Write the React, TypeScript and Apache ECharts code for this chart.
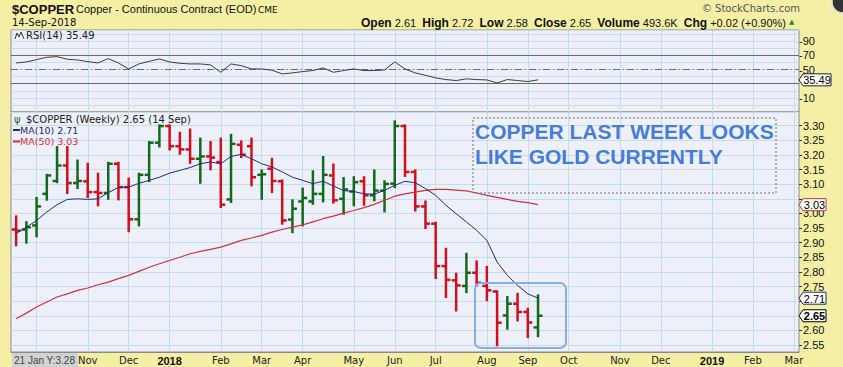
import React, { useEffect, useRef } from "react";
import * as echarts from "echarts";

// Weekly categories (Monday of each week), Sep 2017 .. Mar 2019
const weeks = [
  "2017-09-18","2017-09-25","2017-10-02","2017-10-09","2017-10-16","2017-10-23","2017-10-30",
  "2017-11-06","2017-11-13","2017-11-20","2017-11-27","2017-12-04","2017-12-11","2017-12-18","2017-12-25",
  "2018-01-01","2018-01-08","2018-01-15","2018-01-22","2018-01-29","2018-02-05","2018-02-12","2018-02-19","2018-02-26",
  "2018-03-05","2018-03-12","2018-03-19","2018-03-26","2018-04-02","2018-04-09","2018-04-16","2018-04-23","2018-04-30",
  "2018-05-07","2018-05-14","2018-05-21","2018-05-28","2018-06-04","2018-06-11","2018-06-18","2018-06-25",
  "2018-07-02","2018-07-09","2018-07-16","2018-07-23","2018-07-30","2018-08-06","2018-08-13","2018-08-20","2018-08-27",
  "2018-09-03","2018-09-10",
  "2018-09-17","2018-09-24","2018-10-01","2018-10-08","2018-10-15","2018-10-22","2018-10-29",
  "2018-11-05","2018-11-12","2018-11-19","2018-11-26","2018-12-03","2018-12-10","2018-12-17","2018-12-24","2018-12-31",
  "2019-01-07","2019-01-14","2019-01-21","2019-01-28","2019-02-04","2019-02-11","2019-02-18","2019-02-25","2019-03-04"
];

const opens = [2.945,2.945,2.959,3.067,3.111,3.164,3.104,3.110,3.073,3.070,3.170,3.090,2.980,3.132,3.242,3.299,3.230,3.219,3.187,3.195,3.176,3.048,3.235,3.230,3.132,3.153,3.110,2.979,3.041,3.041,3.067,3.130,3.050,3.075,3.110,3.062,3.078,3.102,3.299,3.142,3.024,2.965,2.820,2.771,2.752,2.797,2.752,2.733,2.651,2.691,2.663,2.61];
const highs = [2.990,2.970,3.053,3.132,3.227,3.227,3.181,3.170,3.136,3.173,3.173,3.119,3.136,3.244,3.301,3.301,3.276,3.287,3.256,3.244,3.256,3.269,3.246,3.256,3.147,3.187,3.113,3.045,3.085,3.144,3.193,3.167,3.121,3.124,3.124,3.147,3.110,3.315,3.301,3.147,3.041,2.968,2.879,2.794,2.862,2.836,2.817,2.733,2.714,2.725,2.674,2.72];
const lows = [2.891,2.900,2.922,3.047,3.107,3.070,3.087,3.056,3.028,3.050,3.048,2.939,2.959,3.111,3.229,3.219,3.204,3.173,3.105,3.151,3.022,3.039,3.193,3.096,3.050,3.073,2.965,2.936,2.959,3.033,3.041,3.037,2.999,3.028,3.030,3.045,3.007,3.090,3.128,3.010,2.950,2.779,2.714,2.668,2.731,2.754,2.703,2.549,2.606,2.634,2.577,2.58];
const closes = [2.941,2.953,3.024,3.130,3.164,3.104,3.111,3.073,3.070,3.170,3.090,2.980,3.132,3.242,3.299,3.230,3.219,3.187,3.195,3.191,3.030,3.238,3.201,3.124,3.134,3.111,2.976,3.016,3.053,3.067,3.132,3.045,3.082,3.107,3.062,3.078,3.101,3.299,3.142,3.024,2.965,2.820,2.773,2.754,2.797,2.763,2.737,2.626,2.691,2.663,2.627,2.65];
const ma10 = [2.931,2.953,2.976,3.005,3.030,3.048,3.050,3.048,3.050,3.071,3.089,3.090,3.103,3.113,3.124,3.138,3.147,3.157,3.170,3.176,3.170,3.195,3.202,3.187,3.170,3.159,3.142,3.124,3.113,3.102,3.110,3.094,3.078,3.075,3.067,3.066,3.079,3.096,3.110,3.105,3.085,3.062,3.028,2.999,2.971,2.942,2.908,2.834,2.788,2.754,2.725,2.71];
const ma50 = [2.640,2.659,2.680,2.697,2.714,2.725,2.737,2.745,2.756,2.765,2.777,2.788,2.802,2.816,2.828,2.839,2.850,2.862,2.870,2.877,2.885,2.896,2.908,2.916,2.925,2.936,2.945,2.953,2.961,2.971,2.982,2.991,3.001,3.010,3.020,3.031,3.045,3.059,3.067,3.073,3.079,3.082,3.082,3.080,3.077,3.070,3.062,3.055,3.048,3.041,3.037,3.03];
const rsi = [59.4,60.8,64.1,67.4,68.3,64.6,63.6,61.3,59.4,65.5,59.4,50.9,58.0,61.7,65.0,60.8,58.9,58.0,58.0,56.6,46.2,58.0,55.6,50.9,50.9,49.1,43.9,45.3,47.2,48.6,52.3,46.2,48.6,50.9,48.6,48.6,49.5,60.8,50.9,45.3,42.0,38.3,35.9,34.5,36.9,35.9,35.4,31.2,35.9,34.5,33.1,35.49];

const rsiTickLabels = [10, 30, 50, 70, 90];
const monthNames = ["Jan","Feb","Mar","Apr","May","Jun","Jul","Aug","Sep","Oct","Nov","Dec"];

const YELLOW = "#f4efa4";
const PLOT_BG = "#eef0f9";
const GRID_C = "#c6dbec";
const BORDER = "#8a8a8a";
const GREEN = "#12691c";
const RED = "#d0101c";
const NAVY = "#1f2a82";
const MA50C = "#d2323c";

const isMonthStart = (v: string) => Number(v.slice(8, 10)) <= 7;
const monthLabel = (v: string) => {
  if (!isMonthStart(v)) return "";
  const y = v.slice(0, 4);
  const m = Number(v.slice(5, 7));
  return m === 1 ? `{yr|${y}}` : monthNames[m - 1];
};

export default function App() {
  const ref = useRef<HTMLDivElement>(null);
  useEffect(() => {
    if (!ref.current) return;
    const chart = echarts.init(ref.current, null, { renderer: "svg" });
    const monthStarts = weeks.filter(isMonthStart);
    const vLines = monthStarts.map((w) => ({ xAxis: w }));

    const ohlc = opens.map((o, i) => [i, o, closes[i], lows[i], highs[i]]);

    // last values shown in the right-hand tags
    const lastRsi = rsi[rsi.length - 1];
    const priceTags = [ma50[ma50.length - 1], ma10[ma10.length - 1], closes[closes.length - 1]];
    const hiddenPrice = (v: number) => priceTags.some((t) => Math.abs(t - v) < 0.025);

    const option: any = {
      animation: false,
      backgroundColor: YELLOW,
      grid: [
        { left: 11, right: 44, top: 30, height: 82, show: true, backgroundColor: PLOT_BG, borderColor: BORDER, borderWidth: 1 },
        { left: 11, right: 44, top: 112, height: 240, show: true, backgroundColor: PLOT_BG, borderColor: BORDER, borderWidth: 1 },
      ],
      xAxis: [
        {
          type: "category", gridIndex: 0, data: weeks, boundaryGap: true,
          axisLine: { show: false }, axisTick: { show: false }, axisLabel: { show: false }, splitLine: { show: false },
        },
        {
          type: "category", gridIndex: 1, data: weeks, boundaryGap: true,
          axisLine: { show: true, lineStyle: { color: BORDER } },
          axisTick: { show: false },
          splitLine: { show: false },
          axisLabel: {
            interval: (i: number, v: string) => i >= 6 && isMonthStart(v),
            formatter: (v: string) => monthLabel(v),
            fontSize: 10, fontFamily: "DejaVu Sans", color: "#222", margin: 3,
            rich: { yr: { fontWeight: "bold", fontSize: 11, fontFamily: "Liberation Sans", color: "#111" } },
          },
        },
      ],
      yAxis: [
        {
          type: "value", gridIndex: 0, position: "right", min: -10, max: 106, interval: 10,
          axisLine: { show: false }, axisTick: { show: false },
          axisLabel: {
            formatter: (v: number) => {
              const r = Math.round(v);
              if (rsiTickLabels.indexOf(r) < 0 || Math.abs(r - lastRsi) < 8) return "";
              return "-" + String(r);
            },
            fontSize: 11, fontFamily: "Liberation Sans", color: "#111", margin: 0,
          },
          splitLine: { show: true, lineStyle: { color: GRID_C, width: 1 } },
        },
        {
          type: "value", gridIndex: 1, position: "right", min: 2.526, max: 3.347, splitNumber: 16,
          axisLine: { show: false },
          axisTick: { show: true, length: 3, lineStyle: { color: "#333" } },
          axisLabel: {
            formatter: (v: number) => (hiddenPrice(v) ? "" : v.toFixed(2)), showMinLabel: false, showMaxLabel: false,
            fontSize: 11, fontFamily: "Liberation Sans", color: "#111", margin: 4,
          },
          splitLine: { show: true, lineStyle: { color: GRID_C, width: 1 } },
        },
      ],
      series: [
        {
          type: "line", xAxisIndex: 0, yAxisIndex: 0, data: [], silent: true,
          markLine: { silent: true, symbol: "none", z: 1, label: { show: false }, lineStyle: { color: GRID_C, type: "solid", width: 1 }, data: vLines },
        },
        {
          type: "line", xAxisIndex: 1, yAxisIndex: 1, data: [], silent: true,
          markLine: { silent: true, symbol: "none", z: 1, label: { show: false }, lineStyle: { color: GRID_C, type: "solid", width: 1 }, data: vLines },
        },
        {
          type: "line", xAxisIndex: 0, yAxisIndex: 0, data: rsi, symbol: "none", silent: true, z: 4,
          lineStyle: { color: "#3c3c3c", width: 1 },
          markLine: {
            silent: true, symbol: "none", z: 2, label: { show: false },
            data: [
              { yAxis: 70, lineStyle: { color: "#6a6a6a", type: "solid", width: 1 } },
              { yAxis: 30, lineStyle: { color: "#6a6a6a", type: "solid", width: 1 } },
              { yAxis: 50, lineStyle: { color: "#6a6a6a", type: [7, 3, 1, 3], width: 1 } },
            ],
          },
        },
        {
          type: "custom", xAxisIndex: 1, yAxisIndex: 1, data: ohlc, z: 3, silent: true,
          encode: { x: 0, y: [1, 2, 3, 4] },
          renderItem: (_p: any, api: any) => {
            const i = api.value(0);
            const o = api.coord([i, api.value(1)]);
            const c = api.coord([i, api.value(2)]);
            const l = api.coord([i, api.value(3)]);
            const h = api.coord([i, api.value(4)]);
            const color = api.value(2) >= api.value(1) ? GREEN : RED;
            const st = { stroke: color, lineWidth: 2.5 };
            return {
              type: "group",
              children: [
                { type: "line", shape: { x1: h[0], y1: h[1] - 1, x2: l[0], y2: l[1] + 1 }, style: st },
                { type: "line", shape: { x1: o[0] - 4.5, y1: o[1], x2: o[0], y2: o[1] }, style: st },
                { type: "line", shape: { x1: c[0], y1: c[1], x2: c[0] + 4.5, y2: c[1] }, style: st },
              ],
            };
          },
        },
        {
          type: "line", xAxisIndex: 1, yAxisIndex: 1, data: ma50, symbol: "none", silent: true, z: 4,
          lineStyle: { color: MA50C, width: 1.2 },
        },
        {
          type: "line", xAxisIndex: 1, yAxisIndex: 1, data: ma10, symbol: "none", silent: true, z: 5,
          lineStyle: { color: NAVY, width: 1 },
        },
      ],
    };
    chart.setOption(option);

    const py = (axis: number, v: number) => chart.convertToPixel({ yAxisIndex: axis }, v) as number;
    const tag = (y: number, text: string, border: string, bold: boolean, w: number) => {
      const x0 = 799;
      return [
        {
          type: "polygon", z: 100,
          shape: { points: [[x0, y], [x0 + 4, y - 6], [x0 + 4 + w, y - 6], [x0 + 4 + w, y + 6], [x0 + 4, y + 6]] },
          style: { fill: "#ffffff", stroke: border, lineWidth: 1 },
        },
        {
          type: "text", z: 101, x: x0 + 4 + w / 2, y: y + 0.5,
          style: {
            text, fill: "#000", textAlign: "center", textVerticalAlign: "middle",
            font: `${bold ? "bold " : ""}11px "Liberation Sans"`,
          },
        },
      ];
    };

    const graphic: any[] = [
      { type: "text", z: 100, x: 12, y: 9, style: { text: "$COPPER", font: 'bold 13px "Liberation Sans"', fill: "#111", textVerticalAlign: "middle" } },
      { type: "text", z: 100, x: 76, y: 9, style: { text: "Copper - Continuous Contract (EOD)", font: '11px "Liberation Sans"', fill: "#111", textVerticalAlign: "middle" } },
      { type: "text", z: 100, x: 258, y: 9.5, style: { text: "CME", font: '9px "DejaVu Sans"', fill: "#111", textVerticalAlign: "middle" } },
      { type: "text", z: 100, x: 12, y: 22.5, style: { text: "14-Sep-2018", font: '10px "DejaVu Sans"', fill: "#111", textVerticalAlign: "middle" } },
      {
        type: "text", z: 100, x: 786, y: 22.5,
        style: {
          text: "{b|Open} 2.61  {b|High} 2.72  {b|Low} 2.58  {b|Close} 2.65  {b|Volume} 493.6K  {b|Chg} +0.02 (+0.90%)",
          font: '11px "Liberation Sans"', fill: "#111", textAlign: "right", textVerticalAlign: "middle",
          rich: { b: { font: 'bold 12px "Liberation Sans"', fill: "#111" } },
        },
      },
      { type: "text", z: 100, x: 789, y: 22, style: { text: "▲", font: '7px "DejaVu Sans"', fill: "#2a8a2a", textVerticalAlign: "middle" } },
      { type: "text", z: 100, x: 800, y: 8.5, style: { text: "© StockCharts.com", font: '10px "DejaVu Sans"', fill: "#555", textAlign: "right", textVerticalAlign: "middle" } },
      { type: "circle", z: 100, shape: { cx: 843, cy: 2, r: 11 }, style: { fill: "#333", stroke: "#ddd", lineWidth: 1.5 } },

      // panel legends
      { type: "polyline", z: 100, shape: { points: [[15, 39], [17, 33], [19, 37], [21, 32], [24, 39]] }, style: { stroke: "#333", fill: "none", lineWidth: 1 } },
      { type: "text", z: 100, x: 26, y: 35.5, style: { text: "RSI(14) 35.49", font: '10px "DejaVu Sans"', fill: "#222", textVerticalAlign: "middle" } },
      { type: "text", z: 100, x: 14, y: 119, style: { text: "ψ", font: '10px "DejaVu Sans"', fill: GREEN, textVerticalAlign: "middle" } },
      { type: "text", z: 100, x: 26, y: 119, style: { text: "$COPPER (Weekly) 2.65 (14 Sep)", font: '10px "DejaVu Sans"', fill: "#222", textVerticalAlign: "middle" } },
      { type: "line", z: 100, shape: { x1: 13, y1: 130, x2: 20, y2: 130 }, style: { stroke: NAVY, lineWidth: 2 } },
      { type: "text", z: 100, x: 20, y: 130, style: { text: "MA(10) 2.71", font: '9.5px "DejaVu Sans"', fill: NAVY, textVerticalAlign: "middle" } },
      { type: "line", z: 100, shape: { x1: 13, y1: 141.5, x2: 20, y2: 141.5 }, style: { stroke: MA50C, lineWidth: 2 } },
      { type: "text", z: 100, x: 20, y: 141.5, style: { text: "MA(50) 3.03", font: '9.5px "DejaVu Sans"', fill: MA50C, textVerticalAlign: "middle" } },

      // annotation
      { type: "rect", z: 90, shape: { x: 473, y: 118, width: 303, height: 75 }, style: { fill: "none", stroke: "#707070", lineWidth: 1, lineDash: [2, 2] } },
      { type: "text", z: 91, x: 475, y: 131.5, style: { text: "COPPER LAST WEEK LOOKS", font: 'bold 21px "Liberation Sans"', fill: "#457ed6", textVerticalAlign: "middle" } },
      { type: "text", z: 91, x: 475, y: 156.5, style: { text: "LIKE GOLD CURRENTLY", font: 'bold 21px "Liberation Sans"', fill: "#457ed6", textVerticalAlign: "middle" } },
      { type: "rect", z: 90, shape: { x: 475, y: 283, width: 91, height: 65, r: 6 }, style: { fill: "none", stroke: "#86aee6", lineWidth: 2 } },

      // cursor readout box on the date strip
      { type: "rect", z: 100, shape: { x: 12, y: 353, width: 66, height: 14 }, style: { fill: "#d2d2d2" } },
      { type: "text", z: 101, x: 14, y: 360.5, style: { text: "21 Jan Y:3.28", font: '10px "Liberation Sans"', fill: "#444", textVerticalAlign: "middle" } },

      ...tag(py(0, lastRsi), "35.49", "#222", false, 28),
      ...tag(py(1, priceTags[0]), "3.03", MA50C, false, 23),
      ...tag(py(1, priceTags[1]), "2.71", NAVY, false, 23),
      ...tag(py(1, priceTags[2]), "2.65", "#000", true, 23),
    ];
    chart.setOption({ graphic });
    return () => chart.dispose();
  }, []);
  return <div ref={ref} style={{ position: "absolute", left: 0, top: 0, width: 843, height: 367 }} />;
}
